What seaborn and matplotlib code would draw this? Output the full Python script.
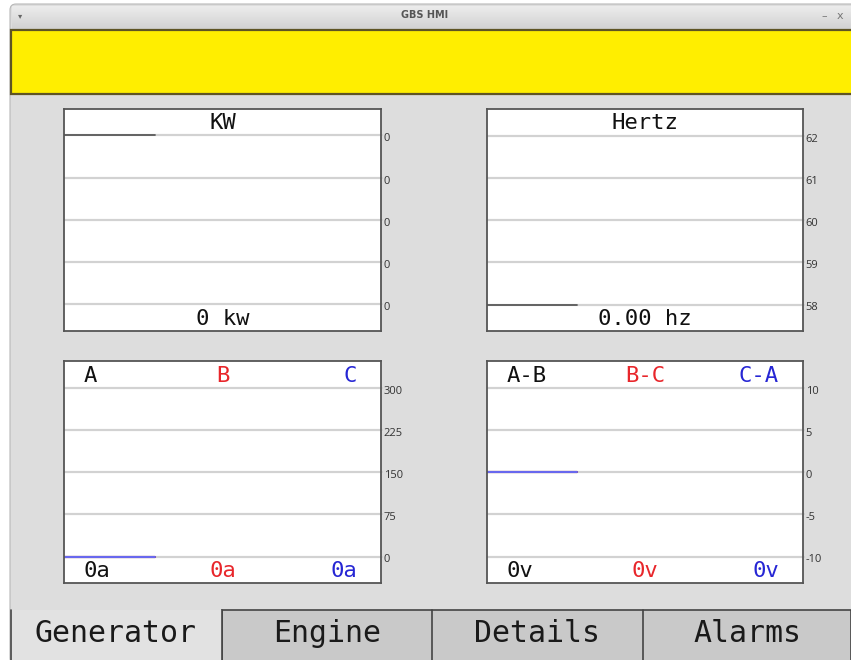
import matplotlib
matplotlib.use("Agg")
import matplotlib.pyplot as plt
import matplotlib.transforms as mtransforms
import numpy as np
import seaborn as sns
from matplotlib.patches import Rectangle, FancyBboxPatch
from matplotlib.ticker import FormatStrFormatter

# ---- data -----------------------------------------------------------------
window_len = 21
time_s = [0, 1, 2, 3, 4, 5, 6]

kw_hist = [0, 0, 0, 0, 0, 0, 0]
hz_hist = [0.0, 0.0, 0.0, 0.0, 0.0, 0.0, 0.0]
amps_a = [0, 0, 0, 0, 0, 0, 0]
amps_b = [0, 0, 0, 0, 0, 0, 0]
amps_c = [0, 0, 0, 0, 0, 0, 0]
volts_ab = [0, 0, 0, 0, 0, 0, 0]
volts_bc = [0, 0, 0, 0, 0, 0, 0]
volts_ca = [0, 0, 0, 0, 0, 0, 0]

kw_ticks = [-0.4, -0.3, -0.2, -0.1, 0.0]
hz_ticks = [58, 59, 60, 61, 62]
amp_ticks = [0, 75, 150, 225, 300]
volt_ticks = [-10, -5, 0, 5, 10]

phase_names = ["A", "B", "C"]
line_names = ["A-B", "B-C", "C-A"]
tab_names = ["Generator", "Engine", "Details", "Alarms"]
window_title = "GBS HMI"

# ---- style ----------------------------------------------------------------
sns.set_style("white")
plt.rcParams["font.family"] = ["DejaVu Sans Mono", "DejaVu Sans"]
plt.rcParams["axes.unicode_minus"] = False

W, H = 851, 660
BG = "#dddddd"
MONO = "DejaVu Sans Mono"
PHASE_COLOURS = ["#111111", "#e8262b", "#2626d4"]
LINE_COLOURS = ["#333333", "#e8262b", "#6868ee"]

fig = plt.figure(figsize=(W / 100, H / 100), dpi=100)
fig.patch.set_facecolor("white")

# background "window" drawn in pixel coordinates
bg = fig.add_axes([0, 0, 1, 1])
bg.set_xlim(0, W)
bg.set_ylim(H, 0)
bg.axis("off")

bg.add_patch(FancyBboxPatch((10, 4), W, H, boxstyle="round,pad=0,rounding_size=6",
                            fc=BG, ec="#b8b8b8", lw=0.8))
grad = np.linspace(0, 1, 30).reshape(-1, 1)
bg.imshow(grad, cmap=matplotlib.colors.LinearSegmentedColormap.from_list(
    "tb", ["#ececec", "#d2d2d2"]), extent=[12, W, 29, 6], aspect="auto", zorder=1)
bg.plot([10, W], [29, 29], color="#b0b0b0", lw=0.8, zorder=2)
bg.text(425, 15, window_title, ha="center", va="center", fontsize=7,
        fontweight="bold", color="#555555", family="DejaVu Sans", zorder=3)
bg.text(20, 16, "\u25be", ha="center", va="center", fontsize=6, color="#666666",
        family="DejaVu Sans", zorder=3)
bg.text(824, 16, "\u2013", ha="center", va="center", fontsize=8, color="#777777",
        family="DejaVu Sans", zorder=3)
bg.text(840, 16, "x", ha="center", va="center", fontsize=8, color="#777777",
        family="DejaVu Sans", zorder=3)

# yellow status banner
bg.add_patch(Rectangle((10.5, 30), W, 64, fc="#ffee00", ec="#5e5424", lw=1.6, zorder=2))

# tabs
tab_edges = [10, 222, 432, 643, W]
bg.add_patch(Rectangle((222, 610), W - 222, 60, fc="#c9c9c9", ec="#444444", lw=1.2, zorder=2))
bg.add_patch(Rectangle((10, 610), 212, 60, fc="#e2e2e2", ec="none", zorder=2))
bg.plot([10.5, 10.5], [610, H], color="#444444", lw=1.2, zorder=3)
for x in tab_edges[1:-1]:
    bg.plot([x, x], [610, H], color="#444444", lw=1.2, zorder=3)
for i, name in enumerate(tab_names):
    cx = (tab_edges[i] + tab_edges[i + 1]) / 2
    bg.text(cx, 633, name, ha="center", va="center", fontsize=21.5, color="#1a1a1a",
            family=MONO, zorder=4)


# ---- gauge panels -----------------------------------------------------------
def add_panel(x0, y0, x1, y1):
    ax = fig.add_axes([x0 / W, 1 - y1 / H, (x1 - x0) / W, (y1 - y0) / H])
    return ax


def style_panel(ax, ticks, fmt):
    step = ticks[1] - ticks[0]
    ax.set_ylim(ticks[0] - step * 26.5 / 42.25, ticks[-1] + step * 26.5 / 42.25)
    ax.set_xlim(0, window_len)
    ax.set_yticks(ticks)
    ax.yaxis.set_major_formatter(FormatStrFormatter(fmt))
    ax.yaxis.tick_right()
    ax.set_xticks([])
    ax.grid(axis="y", color="#d2d2d2", lw=1.6)
    ax.set_axisbelow(True)
    ax.tick_params(axis="y", right=True, length=1.5, width=1.2, pad=0.5,
                   labelsize=8, color="#cfcfcf", labelcolor="#333333")
    shift = mtransforms.ScaledTranslation(0, -2 / 100, fig.dpi_scale_trans)
    for lab in ax.get_yticklabels():
        lab.set_family("Open Sans")
        lab.set_transform(lab.get_transform() + shift)
    for s in ax.spines.values():
        s.set_color("#555555")
        s.set_linewidth(1.3)
    ax.set_facecolor("white")
    ax.set(xlabel=None, ylabel=None)


def trend(ax, values, colour, lw, lo=None, hi=None):
    vals = np.clip(values, lo, hi) if lo is not None else values
    sns.lineplot(x=time_s, y=vals, ax=ax, color=colour, lw=lw, legend=False)


# KW
ax_kw = add_panel(64, 109, 381, 331)
trend(ax_kw, kw_hist, "#5a5a5a", 1.3)
style_panel(ax_kw, kw_ticks, "%d")
ax_kw.text(0.5, 0.935, "KW", transform=ax_kw.transAxes, ha="center", va="center",
           fontsize=16, family=MONO, color="#111111")
ax_kw.text(0.5, 0.054, f"{kw_hist[-1]:.0f} kw", transform=ax_kw.transAxes,
           ha="center", va="center", fontsize=16, family=MONO, color="#111111")

# Hertz
ax_hz = add_panel(487, 109, 803, 331)
trend(ax_hz, hz_hist, "#5a5a5a", 1.3, hz_ticks[0], hz_ticks[-1])
style_panel(ax_hz, hz_ticks, "%d")
ax_hz.text(0.5, 0.935, "Hertz", transform=ax_hz.transAxes, ha="center", va="center",
           fontsize=16, family=MONO, color="#111111")
ax_hz.text(0.5, 0.054, f"{hz_hist[-1]:.2f} hz", transform=ax_hz.transAxes,
           ha="center", va="center", fontsize=16, family=MONO, color="#111111")

# Amps
ax_a = add_panel(64, 361, 381, 583)
for vals, col in zip([amps_a, amps_b, amps_c], LINE_COLOURS):
    trend(ax_a, vals, col, 1.5)
style_panel(ax_a, amp_ticks, "%d")

# Volts
ax_v = add_panel(487, 361, 803, 583)
for vals, col in zip([volts_ab, volts_bc, volts_ca], LINE_COLOURS):
    trend(ax_v, vals, col, 1.5)
style_panel(ax_v, volt_ticks, "%d")

label_pos = [(0.063, "left"), (0.5, "center"), (0.924, "right")]
for ax, names, series, unit in [
    (ax_a, phase_names, [amps_a, amps_b, amps_c], "a"),
    (ax_v, line_names, [volts_ab, volts_bc, volts_ca], "v"),
]:
    for (xf, ha), name, vals, col in zip(label_pos, names, series, PHASE_COLOURS):
        ax.text(xf, 0.932, name, transform=ax.transAxes, ha=ha, va="center",
                fontsize=16, family=MONO, color=col)
        ax.text(xf, 0.054, f"{vals[-1]:.0f}{unit}", transform=ax.transAxes, ha=ha,
                va="center", fontsize=16, family=MONO, color=col)

fig.savefig("out.png", dpi=100)
